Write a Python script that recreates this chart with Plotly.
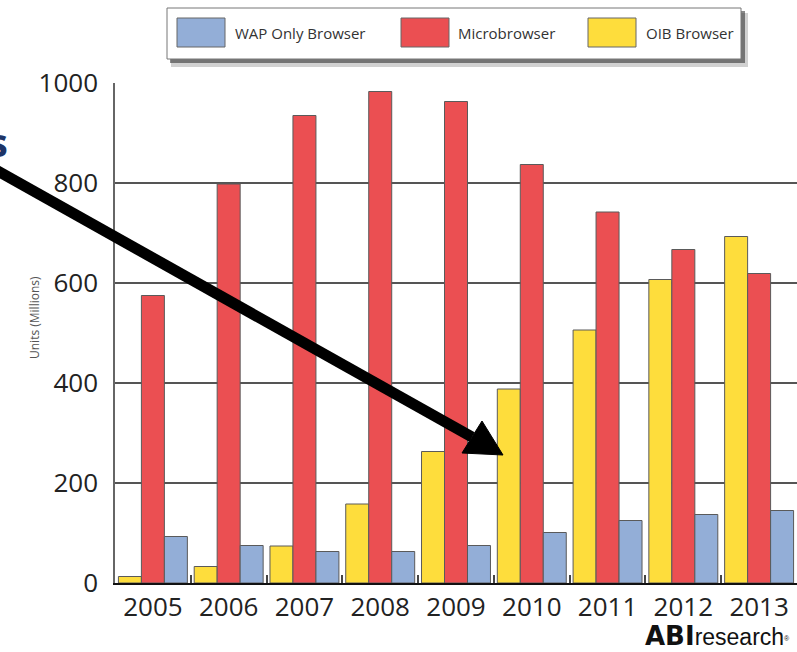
import plotly.graph_objects as go

years = ["2005", "2006", "2007", "2008", "2009", "2010", "2011", "2012", "2013"]
oib_browser = [13, 33, 74, 158, 263, 388, 506, 607, 693]
microbrowser = [575, 798, 935, 983, 963, 837, 742, 667, 619]
wap_only = [93, 75, 63, 63, 75, 101, 125, 137, 145]

series_names = ["WAP Only Browser", "Microbrowser", "OIB Browser"]
colors = {"WAP Only Browser": "#93AED7", "Microbrowser": "#EB4F52", "OIB Browser": "#FEDD3C"}

W, H = 797, 652
ML, MR, MT, MB = 115, 0, 83, 69
PW, PH = W - ML - MR, H - MT - MB


def px(x):
    return (x - ML) / PW


def py(y):
    return (H - MB - y) / PH


fig = go.Figure()
for name, vals in [("OIB Browser", oib_browser), ("Microbrowser", microbrowser), ("WAP Only Browser", wap_only)]:
    fig.add_trace(go.Bar(
        x=years, y=vals, name=name,
        marker=dict(color=colors[name], line=dict(color="#5a5a5a", width=1)),
        showlegend=False,
    ))

shapes = []
# legend shadow + box
shapes.append(dict(type="rect", xref="paper", yref="paper", x0=px(171), x1=px(748), y0=py(13), y1=py(67),
                   fillcolor="rgba(0,0,0,0.18)", line=dict(width=0), layer="above"))
shapes.append(dict(type="rect", xref="paper", yref="paper", x0=px(170), x1=px(745), y0=py(11), y1=py(63),
                   fillcolor="rgba(40,40,40,0.55)", line=dict(width=0), layer="above"))
shapes.append(dict(type="rect", xref="paper", yref="paper", x0=px(167), x1=px(741), y0=py(8), y1=py(59),
                   fillcolor="white", line=dict(color="#777", width=1), layer="above"))
legend_items = [("WAP Only Browser", 177, 233), ("Microbrowser", 401, 456), ("OIB Browser", 588, 644)]
annotations = []
for name, sx, tx in legend_items:
    shapes.append(dict(type="rect", xref="paper", yref="paper", x0=px(sx), x1=px(sx + 48), y0=py(18), y1=py(47),
                       fillcolor=colors[name], line=dict(color="#666", width=1), layer="above"))
    annotations.append(dict(text=name, xref="paper", yref="paper", x=px(tx), y=py(33), xanchor="left",
                            yanchor="middle", showarrow=False,
                            font=dict(family="Open Sans", size=15, color="#333")))

# arrow
tip = (503, 455)
base_a = (462, 453)
base_b = (482, 421)
mid = ((base_a[0] + base_b[0]) / 2, (base_a[1] + base_b[1]) / 2)
shapes.append(dict(type="line", xref="paper", yref="paper", x0=px(-20), y0=py(161), x1=px(mid[0]), y1=py(mid[1]),
                   line=dict(color="black", width=11), layer="above"))
shapes.append(dict(type="path", xref="paper", yref="paper",
                   path=f"M {px(tip[0])},{py(tip[1])} L {px(base_a[0])},{py(base_a[1])} L {px(base_b[0])},{py(base_b[1])} Z",
                   fillcolor="black", line=dict(color="black", width=1), layer="above"))

annotations.append(dict(text="<b>s</b>", xref="paper", yref="paper", x=px(10), y=py(141), xanchor="right",
                        yanchor="middle", showarrow=False,
                        font=dict(family="Open Sans", size=40, color="#1E3568")))
annotations.append(dict(text="Units (Millions)", xref="paper", yref="paper", x=px(34), y=py(318), textangle=-90,
                        xanchor="center", yanchor="middle", showarrow=False,
                        font=dict(family="Open Sans", size=12, color="#555")))
annotations.append(dict(
    text='<span style="font-family:DejaVu Sans;font-size:26px"><b>ABI</b></span>'
         '<span style="font-family:Liberation Sans;font-size:23px">research</span>'
         '<span style="font-family:Liberation Sans;font-size:10px"><sup>®</sup></span>',
    xref="paper", yref="paper", x=px(791), y=py(636), xanchor="right", yanchor="middle", showarrow=False,
    borderpad=0, font=dict(color="#111")))

fig.update_layout(
    width=W, height=H,
    margin=dict(l=ML, r=MR, t=MT, b=MB, pad=0),
    paper_bgcolor="white", plot_bgcolor="white",
    barmode="group", bargap=0.09, bargroupgap=0,
    shapes=shapes, annotations=annotations,
    showlegend=False,
)
fig.update_xaxes(
    type="category", showline=True, linecolor="#111", linewidth=2,
    ticks="inside", tickson="boundaries", ticklen=8, tickcolor="#444", tickwidth=1.5,
    showgrid=False, ticklabelstandoff=0,
    tickfont=dict(family="Open Sans", size=26, color="#222"),
)
fig.update_yaxes(
    range=[0, 1000], tickvals=[0, 200, 400, 600, 800, 1000],
    showline=True, linecolor="#666", linewidth=1.5,
    showgrid=True, gridcolor="#555", gridwidth=1.5, zeroline=False,
    ticks="", ticklabelstandoff=10,
    tickfont=dict(family="Open Sans", size=26, color="#222"),
)

fig.write_html("out.html")
